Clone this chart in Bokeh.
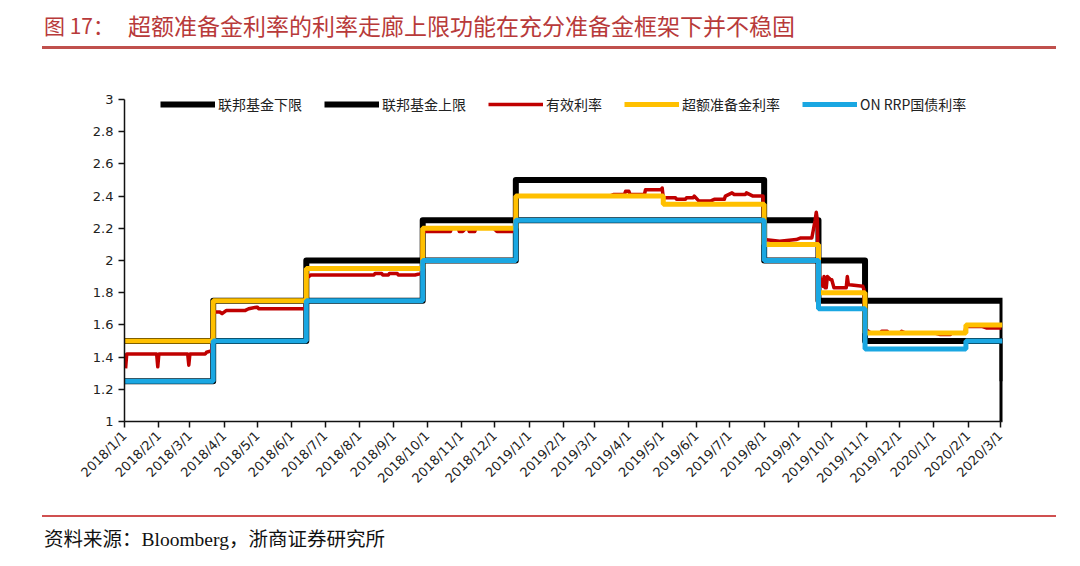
import math
import pandas as pd
from bokeh.plotting import figure
from bokeh.layouts import column
from bokeh.models import Range1d, FixedTicker, CustomJSTickFormatter, Legend, LegendItem, Div
from bokeh.embed import file_html
from bokeh.resources import INLINE

# ---------------- data ----------------
title_prefix = "图 17："
title_text = "超额准备金利率的利率走廊上限功能在充分准备金框架下并不稳固"
source_text = "资料来源：Bloomberg，浙商证券研究所"

series_names = ["联邦基金下限", "联邦基金上限", "有效利率", "超额准备金利率", "ON RRP国债利率"]

fed_dates = ["2018-01-01", "2018-03-22", "2018-06-14", "2018-09-27", "2018-12-20",
             "2019-08-01", "2019-09-19", "2019-10-31", "2020-03-03"]
fed_lower = [1.25, 1.50, 1.75, 2.00, 2.25, 2.00, 1.75, 1.50, 1.00]
fed_upper = [1.50, 1.75, 2.00, 2.25, 2.50, 2.25, 2.00, 1.75, 1.25]

ioer_dates = ["2018-01-01", "2018-03-22", "2018-06-14", "2018-09-27", "2018-12-20", "2019-05-02",
              "2019-08-01", "2019-09-19", "2019-10-31", "2020-01-30", "2020-03-03"]
ioer_vals = [1.50, 1.75, 1.95, 2.20, 2.40, 2.35, 2.10, 1.80, 1.55, 1.60, 1.60]

onrrp_dates = ["2018-01-01", "2018-03-22", "2018-06-14", "2018-09-27", "2018-12-20",
               "2019-08-01", "2019-09-19", "2019-10-31", "2020-01-30", "2020-03-03"]
onrrp_vals = [1.25, 1.50, 1.75, 2.00, 2.25, 2.00, 1.70, 1.45, 1.50, 1.50]

effr_dates = [
    "2018-01-02", "2018-01-03", "2018-01-30", "2018-01-31", "2018-02-01", "2018-02-27", "2018-02-28",
    "2018-03-01", "2018-03-15", "2018-03-16", "2018-03-21",
    "2018-03-22", "2018-03-28", "2018-03-30", "2018-04-03", "2018-04-20", "2018-04-23", "2018-04-30",
    "2018-05-01", "2018-05-02", "2018-06-13",
    "2018-06-14", "2018-06-18", "2018-08-14", "2018-08-15", "2018-08-21", "2018-08-22", "2018-08-27",
    "2018-08-28", "2018-09-04", "2018-09-05", "2018-09-20", "2018-09-26",
    "2018-09-27", "2018-10-22", "2018-10-23", "2018-10-29", "2018-10-30", "2018-11-02", "2018-11-05",
    "2018-11-07", "2018-11-08", "2018-11-13", "2018-11-14", "2018-11-30", "2018-12-03", "2018-12-19",
    "2018-12-20", "2019-03-15", "2019-03-18", "2019-03-28", "2019-03-29", "2019-04-01", "2019-04-02",
    "2019-04-15", "2019-04-16", "2019-04-30", "2019-05-01",
    "2019-05-02", "2019-05-13", "2019-05-14", "2019-05-22", "2019-05-23", "2019-05-29", "2019-05-30",
    "2019-06-03", "2019-06-04", "2019-06-14", "2019-06-17", "2019-06-26", "2019-06-27", "2019-07-03",
    "2019-07-05", "2019-07-15", "2019-07-16", "2019-07-22", "2019-07-31",
    "2019-08-01", "2019-08-15", "2019-08-30", "2019-09-03", "2019-09-13", "2019-09-16", "2019-09-17",
    "2019-09-18",
    "2019-09-19", "2019-09-20", "2019-09-23", "2019-09-24", "2019-09-25", "2019-09-26", "2019-09-27",
    "2019-09-30", "2019-10-01", "2019-10-03", "2019-10-14", "2019-10-15", "2019-10-16", "2019-10-17",
    "2019-10-29", "2019-10-30",
    "2019-10-31", "2019-11-01", "2019-11-05", "2019-11-14", "2019-11-15", "2019-11-20", "2019-11-21",
    "2019-12-02", "2019-12-03", "2019-12-06", "2019-12-31", "2020-01-02", "2020-01-07", "2020-01-08",
    "2020-01-16", "2020-01-17", "2020-01-29",
    "2020-01-30", "2020-02-14", "2020-02-18", "2020-03-02",
]
effr_vals = [
    1.33, 1.42, 1.42, 1.34, 1.42, 1.42, 1.35,
    1.42, 1.42, 1.43, 1.44,
    1.68, 1.68, 1.67, 1.69, 1.69, 1.70, 1.71,
    1.71, 1.70, 1.70,
    1.89, 1.91, 1.91, 1.92, 1.92, 1.91, 1.91,
    1.92, 1.92, 1.91, 1.91, 1.92,
    2.18, 2.18, 2.20, 2.20, 2.18, 2.18, 2.20,
    2.20, 2.18, 2.18, 2.20, 2.20, 2.18, 2.18,
    2.40, 2.40, 2.41, 2.41, 2.43, 2.43, 2.41,
    2.41, 2.44, 2.44, 2.45,
    2.39, 2.39, 2.38, 2.38, 2.39, 2.39, 2.40,
    2.37, 2.37, 2.37, 2.38, 2.38, 2.40, 2.42,
    2.41, 2.41, 2.42, 2.40, 2.40,
    2.13, 2.12, 2.13, 2.14, 2.14, 2.25, 2.30,
    2.25,
    1.90, 1.90, 1.84, 1.90, 1.83, 1.83, 1.90,
    1.88, 1.88, 1.83, 1.83, 1.90, 1.85, 1.85,
    1.84, 1.82,
    1.58, 1.57, 1.55, 1.55, 1.56, 1.56, 1.55,
    1.55, 1.56, 1.55, 1.55, 1.55, 1.54, 1.54,
    1.54, 1.55, 1.55,
    1.59, 1.59, 1.58, 1.58,
]

y_ticks = [1.0, 1.2, 1.4, 1.6, 1.8, 2.0, 2.2, 2.4, 2.6, 2.8, 3.0]
y_tick_labels = ["1", "1.2", "1.4", "1.6", "1.8", "2", "2.2", "2.4", "2.6", "2.8", "3"]

x_tick_labels = ["2018/1/1", "2018/2/1", "2018/3/1", "2018/4/1", "2018/5/1", "2018/6/1", "2018/7/1",
                 "2018/8/1", "2018/9/1", "2018/10/1", "2018/11/1", "2018/12/1", "2019/1/1", "2019/2/1",
                 "2019/3/1", "2019/4/1", "2019/5/1", "2019/6/1", "2019/7/1", "2019/8/1", "2019/9/1",
                 "2019/10/1", "2019/11/1", "2019/12/1", "2020/1/1", "2020/2/1", "2020/3/1"]

x_start = "2018-01-01"
x_end = "2020-03-03"
y_min, y_max, y_view_max = 1.0, 3.0, 3.0621   # frame reaches a little above the last tick

colors = ["#000000", "#000000", "#c00000", "#ffc000", "#1aa7e2"]

# ---------------- helpers ----------------
def dt(lst):
    return pd.to_datetime(lst)

epoch = pd.Timestamp("1970-01-01")
x_tick_ms = [float((pd.to_datetime(s, format="%Y/%m/%d") - epoch) / pd.Timedelta(milliseconds=1))
             for s in x_tick_labels]

CJK = "Noto Sans CJK SC"
TOP_H, MAIN_H, BOT_H = 60, 445, 61
FRAME_TOP, FRAME_H = 29, 332          # within the main figure

# ---------------- title strip ----------------
top_html = (
    f'<div style="position:relative;width:1080px;height:{TOP_H}px;margin:0;padding:0;">'
    f'<span style="position:absolute;left:44px;top:11px;font-family:\'{CJK}\';font-size:21px;'
    f'line-height:28px;color:#b83a3a;white-space:nowrap;">{title_prefix}</span>'
    f'<span style="position:absolute;left:128px;top:10px;font-family:\'{CJK}\';font-size:23px;'
    f'line-height:30px;color:#b83a3a;white-space:nowrap;">{title_text}</span>'
    f'<div style="position:absolute;left:42px;top:46px;width:1014px;height:2.5px;'
    f'background:#c0504d;"></div></div>'
)
top = Div(text=top_html, width=1080, height=TOP_H, margin=0)

# ---------------- main chart ----------------
p = figure(width=1080, height=MAIN_H, x_axis_type="datetime",
           x_range=Range1d(pd.Timestamp(x_start), pd.Timestamp(x_end)),
           y_range=Range1d(y_min, y_view_max),
           min_border_left=124, min_border_right=78, min_border_top=FRAME_TOP,
           min_border_bottom=MAIN_H - FRAME_TOP - FRAME_H,
           toolbar_location=None, output_backend="svg")
p.grid.visible = False
p.outline_line_color = None

r_low = p.step(x=dt(fed_dates), y=fed_lower, mode="after", line_color=colors[0], line_width=6,
               line_join="round")
r_up = p.step(x=dt(fed_dates), y=fed_upper, mode="after", line_color=colors[1], line_width=6,
              line_join="round")
r_eff = p.line(x=dt(effr_dates), y=effr_vals, line_color=colors[2], line_width=3.5, line_join="round")
r_ioer = p.step(x=dt(ioer_dates), y=ioer_vals, mode="after", line_color=colors[3], line_width=5)
r_rrp = p.step(x=dt(onrrp_dates), y=onrrp_vals, mode="after", line_color=colors[4], line_width=5)

p.yaxis.ticker = FixedTicker(ticks=y_ticks)
p.yaxis.bounds = (y_min, y_max)
p.yaxis.formatter = CustomJSTickFormatter(args=dict(t=y_ticks, l=y_tick_labels), code="""
let b = 0; for (let i = 1; i < t.length; i++) { if (Math.abs(t[i]-tick) < Math.abs(t[b]-tick)) b = i; }
return l[b];""")
p.xaxis.ticker = FixedTicker(ticks=x_tick_ms)
p.xaxis.formatter = CustomJSTickFormatter(args=dict(t=x_tick_ms, l=x_tick_labels), code="""
let b = 0; for (let i = 1; i < t.length; i++) { if (Math.abs(t[i]-tick) < Math.abs(t[b]-tick)) b = i; }
return l[b];""")

for ax in (p.xaxis[0], p.yaxis[0]):
    ax.axis_line_color = "#111111"
    ax.axis_line_width = 1.5
    ax.major_tick_line_color = "#111111"
    ax.major_tick_line_width = 1.5
    ax.major_tick_in = 0
    ax.major_tick_out = 6
    ax.minor_tick_line_color = None
    ax.major_label_text_color = "#222222"
    ax.major_label_text_font = "DejaVu Sans"

p.yaxis.major_label_text_font_size = "13px"
p.yaxis.major_label_standoff = 5
p.xaxis.major_label_text_font_size = "13px"
p.xaxis.major_label_orientation = math.pi / 4
p.xaxis.major_label_standoff = 6

# legend row centred ~5 px below the "3" tick; location is measured from the frame bottom
legend = Legend(items=[LegendItem(label=n, renderers=[r]) for n, r in
                       zip(series_names, [r_low, r_up, r_eff, r_ioer, r_rrp])],
                orientation="horizontal", location=(36, FRAME_H - 5 - 20), padding=0, margin=0,
                spacing=22, glyph_width=55, glyph_height=20, label_height=20, label_standoff=3,
                label_text_font=CJK, label_text_font_size="14px", label_text_color="#222222",
                border_line_alpha=0, background_fill_alpha=0)
p.add_layout(legend)

# ---------------- source strip ----------------
bot_html = (
    f'<div style="position:relative;width:1080px;height:{BOT_H}px;margin:0;padding:0;">'
    f'<div style="position:absolute;left:42px;top:10px;width:1014px;height:1.5px;'
    f'background:#d05050;"></div>'
    f'<span style="position:absolute;left:44px;top:22px;font-family:\'Liberation Serif\',\'{CJK}\';'
    f'font-size:19.5px;line-height:26px;color:#111111;white-space:nowrap;">{source_text}</span></div>'
)
bot = Div(text=bot_html, width=1080, height=BOT_H, margin=0)

layout = column(top, p, bot, spacing=0)
open("out.html", "w").write(file_html(layout, INLINE))
